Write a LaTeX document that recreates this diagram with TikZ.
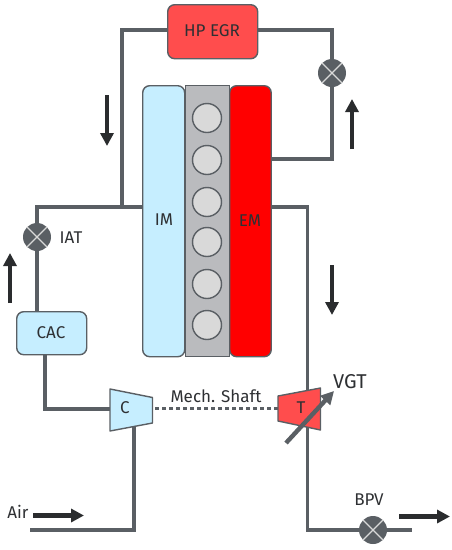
\documentclass[tikz,border=0pt]{standalone}
\usepackage{fontspec}
\setmainfont{Fira Sans}
\usetikzlibrary{arrows.meta}
\definecolor{pipec}{HTML}{5A5F64}
\definecolor{arrc}{HTML}{2A2C2E}
\definecolor{txtc}{HTML}{2E3033}
\definecolor{coolc}{HTML}{C6EEFF}
\definecolor{hotc}{HTML}{FF4D4D}
\definecolor{blockc}{HTML}{BABBBE}
\definecolor{cylc}{HTML}{D9D9D9}
\tikzset{
  pipe/.style={draw=pipec,line width=3.4pt,line join=miter},
  flow/.style={draw=arrc,line width=4.4pt,-{Triangle[length=13pt,width=13pt]}},
  box/.style={draw=pipec,line width=1.4pt,rounded corners=7pt},
  lab/.style={text=txtc,font=\fontsize{17}{19}\selectfont,inner sep=0pt,anchor=center},
  cyl/.style={circle,draw=pipec,line width=1.4pt,fill=cylc,minimum size=29pt,inner sep=0pt},
  valve/.style={circle,fill=pipec,minimum size=28pt,inner sep=0pt,
    path picture={\draw[white!85!black,line width=1.2pt]
      (path picture bounding box.north west)++(2pt,-2pt)--([xshift=-2pt,yshift=2pt]path picture bounding box.south east)
      (path picture bounding box.north east)++(-2pt,-2pt)--([xshift=2pt,yshift=2pt]path picture bounding box.south west);}},
  boxnode/.style={box,inner sep=0pt,anchor=north west}
}
\begin{document}
\begin{tikzpicture}[x=1pt,y=-1pt]
\useasboundingbox (0,0) rectangle (452,550);
% coordinates
\coordinate (topL) at (122,30);
\coordinate (jn) at (122,207);
\coordinate (leftC) at (37,207);
\coordinate (topR) at (332,30);
\coordinate (egrIn) at (332,159);
\coordinate (cacC) at (45,409);
\coordinate (airC) at (134,530);
\coordinate (airEnd) at (30,530);
\coordinate (emC) at (307.5,207);
\coordinate (botC) at (307.5,530);
\coordinate (outEnd) at (412,530);
% block nodes
\node[fill=blockc,draw=pipec,line width=1.4pt,minimum width=44.5pt,minimum height=271pt,inner sep=0pt,anchor=north west] (block) at (184.5,85) {};
\node[boxnode,fill=coolc,minimum width=42pt,minimum height=271pt] (im) at (142,85) {};
\node[boxnode,fill=red,minimum width=41.5pt,minimum height=271pt] (em) at (229,85) {};
\node[lab] at (164,220) {IM};
\node[lab] at (250,221) {EM};
\foreach \n/\y in {1/118,2/160,3/202,4/242,5/284,6/325}
  \node[cyl] (c\n) at (207,\y) {};
\node[boxnode,fill=hotc,minimum width=90pt,minimum height=54pt] (egr) at (167,4) {};
\node[lab] at (212,31) {HP EGR};
\node[boxnode,fill=coolc,minimum width=70pt,minimum height=43pt] (cac) at (16,311) {};
\node[lab] at (51,333) {CAC};
% pipes
\draw[pipe] (egr.west |- topL) -- (topL) -- (jn);
\draw[pipe] (im.west |- jn) -- (leftC) -- (cac.north -| leftC);
\draw[pipe] (egr.east |- topR) -- (topR) -- (egrIn) -- (em.east |- egrIn);
\draw[pipe] (cac.south -| cacC) -- (cacC) -- (110,409);
\draw[pipe] (134,425) -- (airC) -- (airEnd);
\draw[pipe] (em.east |- emC) -- (emC) -- (botC) -- (outEnd);
\draw[draw=pipec,line width=3pt,dash pattern=on 3.5pt off 3.5pt] (155,408) -- (278,408);
% machines
\draw[fill=coolc,draw=pipec,line width=1.4pt,line join=round] (110,389) -- (152.5,397.5) -- (152.5,423) -- (110,431) -- cycle;
\node[lab] at (125,408) {C};
\draw[fill=hotc,draw=pipec,line width=1.4pt,line join=round] (278,396) -- (320.5,388) -- (320.5,430) -- (278,421) -- cycle;
\node[lab] at (301,408) {T};
\draw[draw=pipec,line width=4.4pt,-{Triangle[length=13pt,width=13pt]}] (286,443) -- (334,391);
% valves
\node[valve] (v1) at (37,237) {};
\node[valve] (v2) at (332,73) {};
\node[valve] (v3) at (373,530) {};
% labels
\node[lab] at (71,238) {IAT};
\node[lab] at (369,500) {BPV};
\node[lab,font=\fontsize{20}{22}\selectfont] at (350,382) {VGT};
\node[lab] at (216,396) {Mech. Shaft};
\node[lab] at (18,512) {Air};
% flow arrows
\coordinate (f1a) at (107,95); \coordinate (f1b) at (107,146);
\coordinate (f2a) at (352,149); \coordinate (f2b) at (352,99);
\coordinate (f3a) at (10,303); \coordinate (f3b) at (10,253);
\coordinate (f4a) at (332,265); \coordinate (f4b) at (332,315);
\coordinate (f5a) at (33,515.5); \coordinate (f5b) at (84,515.5);
\coordinate (f6a) at (399,516.5); \coordinate (f6b) at (450,516.5);
\foreach \n in {1,...,6} \draw[flow] (f\n a) -- (f\n b);
\end{tikzpicture}
\end{document}
